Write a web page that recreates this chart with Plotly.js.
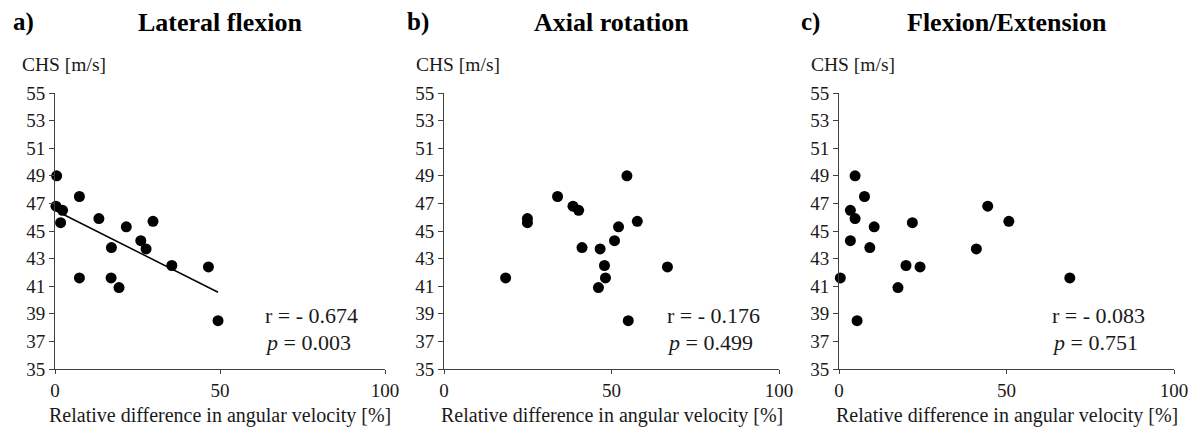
<!DOCTYPE html>
<html>
<head>
<meta charset="utf-8">
<script src="https://cdn.plot.ly/plotly-3.0.1.min.js"></script>
<style>html,body{margin:0;padding:0;background:#fff;}#chart{width:1199px;height:438px;}</style>
</head>
<body>
<div id="chart"></div>
<script>
// Panel titles
const panelLetters = ["a)", "b)", "c)"];
const panelTitles = ["Lateral flexion", "Axial rotation", "Flexion/Extension"];
const yLabel = "CHS [m/s]";
const xLabel = "Relative difference in angular velocity [%]";
const yTicks = [35, 37, 39, 41, 43, 45, 47, 49, 51, 53, 55];
const xTicks = [0, 50, 100];

// a) Lateral flexion
const latX = [0.5, 0.3, 2.3, 1.7, 7.4, 7.4, 13.3, 17.1, 17.0, 19.4, 21.6, 26.0, 27.6, 29.7, 35.4, 46.5, 49.4];
const latY = [49.0, 46.8, 46.5, 45.6, 47.5, 41.6, 45.9, 43.8, 41.6, 40.9, 45.3, 44.3, 43.7, 45.7, 42.5, 42.4, 38.5];
const latTrendX = [0.3, 49.4];
const latTrendY = [46.47, 40.56];

// b) Axial rotation
const axX = [54.6, 33.9, 38.5, 40.2, 24.9, 24.9, 57.7, 52.1, 50.9, 41.2, 46.6, 47.9, 66.7, 18.4, 48.2, 46.1, 55.0];
const axY = [49.0, 47.5, 46.8, 46.5, 45.9, 45.6, 45.7, 45.3, 44.3, 43.8, 43.7, 42.5, 42.4, 41.6, 41.6, 40.9, 38.5];

// c) Flexion/Extension
const flexX = [4.8, 7.6, 3.4, 44.4, 4.8, 21.9, 50.7, 10.5, 3.4, 9.2, 41.0, 20.0, 24.2, 0.4, 68.9, 17.6, 5.4];
const flexY = [49.0, 47.5, 46.5, 46.8, 45.9, 45.6, 45.7, 45.3, 44.3, 43.8, 43.7, 42.5, 42.4, 41.6, 41.6, 40.9, 38.5];

// Statistics text
const rValues = ["- 0.674", "- 0.176", "- 0.083"];
const pValues = ["0.003", "0.499", "0.751"];

const W = 1199, H = 438;
const FONT = "Liberation Serif";
const axisColor = "#404040";
const textColor = "#1a1a1a";

// pixel layout of plot areas
const areas = [[55, 385], [444, 779], [839, 1174]];
const yTopPx = 93, yBotPx = 369;
const letterPx = [11, 405, 799];
const yLabelPx = [20, 414, 809];
const statXData = [63, 66, 63];

const marker = {size: 11, color: "#000"};
const traces = [
  {x: latX, y: latY, xaxis: "x", yaxis: "y", mode: "markers", type: "scatter", marker, cliponaxis: false},
  {x: latTrendX, y: latTrendY, xaxis: "x", yaxis: "y", mode: "lines", type: "scatter", line: {color: "#000", width: 1.5}, cliponaxis: false},
  {x: axX, y: axY, xaxis: "x2", yaxis: "y2", mode: "markers", type: "scatter", marker, cliponaxis: false},
  {x: flexX, y: flexY, xaxis: "x3", yaxis: "y3", mode: "markers", type: "scatter", marker, cliponaxis: false}
];

const layout = {
  width: W, height: H,
  margin: {l: 0, r: 0, t: 0, b: 0},
  paper_bgcolor: "#fff", plot_bgcolor: "#fff",
  showlegend: false,
  font: {family: FONT, size: 19, color: textColor},
  annotations: []
};

const suffix = ["", "2", "3"];
for (let i = 0; i < 3; i++) {
  const xa = "xaxis" + suffix[i], ya = "yaxis" + suffix[i];
  layout[xa] = {
    domain: [areas[i][0] / W, areas[i][1] / W],
    range: [0, 100], tickvals: xTicks, ticktext: xTicks.map(String),
    showgrid: false, zeroline: false, showline: true, linecolor: axisColor, linewidth: 1,
    ticks: "outside", ticklen: 4, tickcolor: axisColor, tickwidth: 1,
    tickfont: {family: FONT, size: 19, color: textColor},
    anchor: "y" + suffix[i], fixedrange: true
  };
  layout[ya] = {
    domain: [1 - yBotPx / H, 1 - yTopPx / H],
    range: [35, 55], tickvals: yTicks, ticktext: yTicks.map(String),
    showgrid: false, zeroline: false, showline: true, linecolor: axisColor, linewidth: 1,
    ticks: "outside", ticklen: 5, tickcolor: axisColor, tickwidth: 1,
    tickfont: {family: FONT, size: 19, color: textColor},
    anchor: "x" + suffix[i], fixedrange: true
  };
  const xr = "x" + suffix[i], yr = "y" + suffix[i];
  layout.annotations.push(
    {text: "<b>" + panelLetters[i] + "</b>", xref: "paper", yref: "paper", x: letterPx[i] / W, y: 1 - 22 / H,
     xanchor: "left", yanchor: "middle", showarrow: false, font: {family: FONT, size: 25, color: "#000"}},
    {text: "<b>" + panelTitles[i] + "</b>", xref: xr + " domain", yref: "paper", x: 0.5, y: 1 - 22 / H,
     xanchor: "center", yanchor: "middle", showarrow: false, font: {family: FONT, size: 26, color: "#000"}},
    {text: yLabel, xref: "paper", yref: "paper", x: yLabelPx[i] / W, y: 1 - 65 / H,
     xanchor: "left", yanchor: "middle", showarrow: false, font: {family: FONT, size: 19.5, color: textColor}},
    {text: xLabel, xref: xr + " domain", yref: "paper", x: 0.5, y: 1 - 415 / H,
     xanchor: "center", yanchor: "middle", showarrow: false, font: {family: FONT, size: 20, color: textColor}},
    {text: "r = " + rValues[i], xref: xr, yref: yr, x: statXData[i], y: 38.9,
     xanchor: "left", yanchor: "middle", showarrow: false, font: {family: FONT, size: 22, color: textColor}},
    {text: "<i>p</i> = " + pValues[i], xref: xr, yref: yr, x: statXData[i], y: 36.95,
     xanchor: "left", yanchor: "middle", showarrow: false, font: {family: FONT, size: 22, color: textColor}}
  );
}

Plotly.newPlot("chart", traces, layout, {displayModeBar: false, staticPlot: true});
</script>
</body>
</html>
